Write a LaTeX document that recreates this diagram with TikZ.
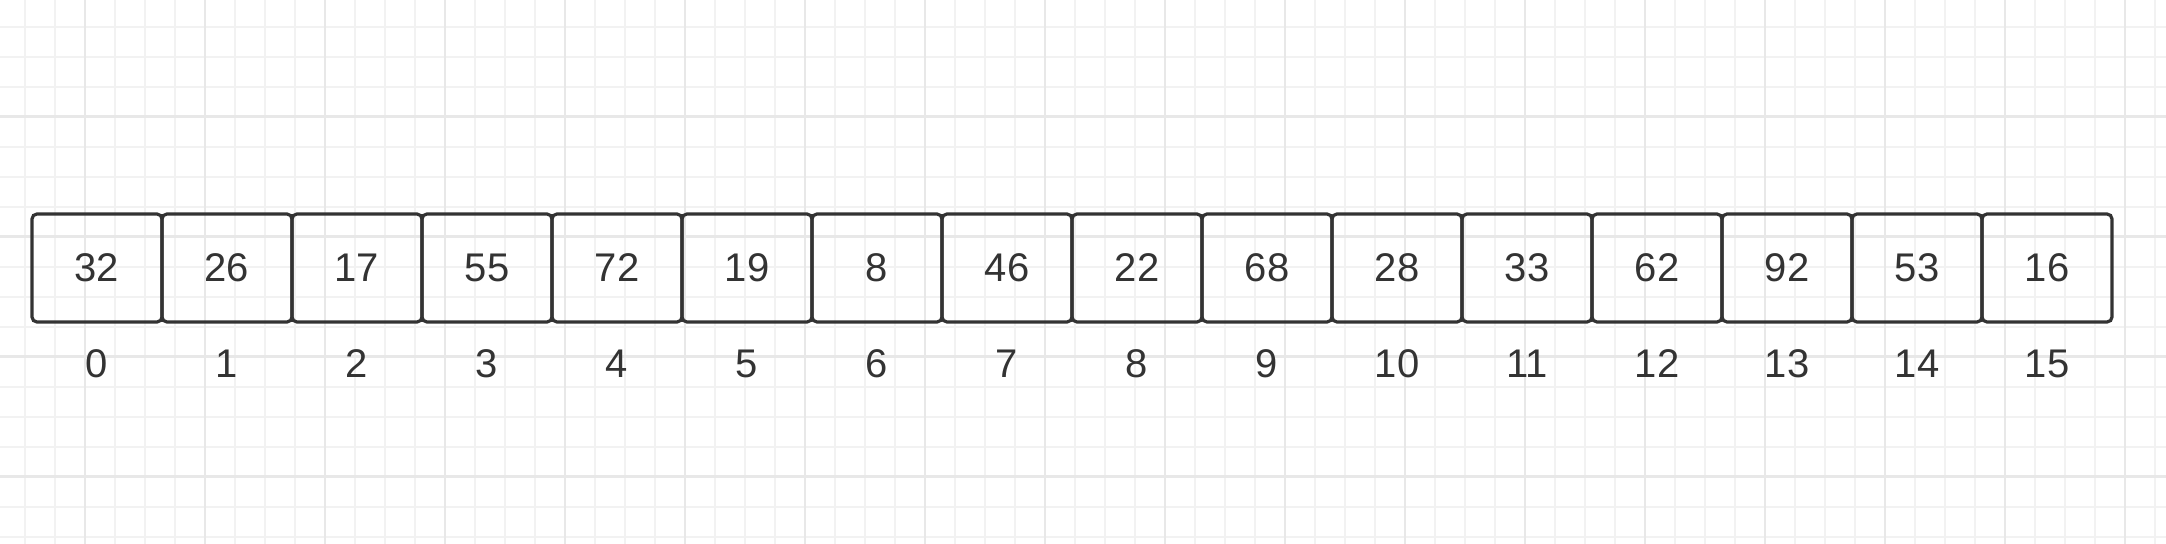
\documentclass[tikz,border=0pt]{standalone}
\usepackage{fontspec}
\setmainfont{Liberation Sans}
\usepackage{tikz}
\usetikzlibrary{positioning}
\definecolor{ink}{HTML}{333333}
\definecolor{gridminor}{HTML}{F2F2F2}
\definecolor{gridmajor}{HTML}{E8E8E8}

\begin{document}
\begin{tikzpicture}  %one px of the sketch is half a point
		[x=0.5pt, y=-0.5pt,
		cell/.style={rectangle, draw=ink, line width=1.6pt, rounded corners=2.5pt, minimum width=65pt, minimum height=54pt, inner sep=0pt, outer sep=0pt, text=ink, font=\fontsize{20}{24}\selectfont},
		every label/.style={inner sep=0pt, text height=14.5pt, text depth=0pt, text=ink, font=\fontsize{20}{24}\selectfont},
		label distance=13pt]

		\fill[white] (0,0) rectangle (2166,544);
		\useasboundingbox (0,0) rectangle (2166,544);
		\draw[gridminor, line width=1pt, step=15pt, shift={(25,26.7)}] (-30,550) grid (2170,-30);
		\draw[gridmajor, line width=1.2pt, step=60pt, shift={(85,116.7)}] (-120,460) grid (2120,-120);

		\node[cell] (a0) at (97,268) [label = below:0] {32};
		\node[cell] (a1) [right=0pt of a0] [label = below:1] {26};
		\node[cell] (a2) [right=0pt of a1] [label = below:2] {17};
		\node[cell] (a3) [right=0pt of a2] [label = below:3] {55};
		\node[cell] (a4) [right=0pt of a3] [label = below:4] {72};
		\node[cell] (a5) [right=0pt of a4] [label = below:5] {19};
		\node[cell] (a6) [right=0pt of a5] [label = below:6] {8};
		\node[cell] (a7) [right=0pt of a6] [label = below:7] {46};
		\node[cell] (a8) [right=0pt of a7] [label = below:8] {22};
		\node[cell] (a9) [right=0pt of a8] [label = below:9] {68};
		\node[cell] (a10) [right=0pt of a9] [label = below:10] {28};
		\node[cell] (a11) [right=0pt of a10] [label = below:11] {33};
		\node[cell] (a12) [right=0pt of a11] [label = below:12] {62};
		\node[cell] (a13) [right=0pt of a12] [label = below:13] {92};
		\node[cell] (a14) [right=0pt of a13] [label = below:14] {53};
		\node[cell] (a15) [right=0pt of a14] [label = below:15] {16}; %last one, index 15
	\end{tikzpicture}
\end{document}
